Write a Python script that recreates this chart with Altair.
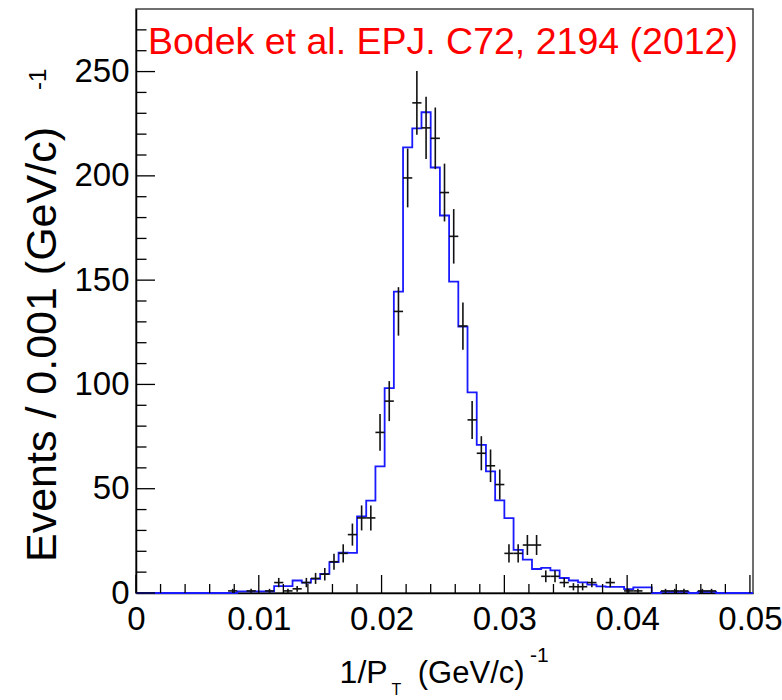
import altair as alt
import pandas as pd
import numpy as np

# ---------------- data ----------------
N_BINS = 67
BIN_W = 0.00075
X_MAX = N_BINS * BIN_W

# blue histogram (MC), one value per bin (bin index 0..66)
mc_counts = [
    0, 0, 0, 0, 0, 0, 0, 0, 0, 0,            # 0-9
    0, 0.8, 0.8, 0.8, 0.8, 3.3, 3.3, 6.0, 5.0, 6.8,   # 10-19
    9.2, 14.8, 19.4, 19.2, 36.7, 44.3, 60.7, 98.2, 144.5, 213.7,  # 20-29
    222.8, 230.5, 204.0, 181.0, 149.3, 127.7, 96.2, 71.0, 58.3, 44.4,  # 30-39
    35.9, 20.7, 16.0, 11.5, 12.0, 10.8, 7.2, 6.0, 5.1, 4.0,  # 40-49
    3.2, 2.9, 2.9, 1.9, 2.7, 2.7, 0, 0.5, 0.5, 0.5,  # 50-59
    0, 0.5, 0.5, 0, 0, 0, 0,                  # 60-66
]

# black data points: bin index and counts
data_bins = [10, 12, 14, 15, 16, 17, 18, 19, 20, 21, 22, 23, 24, 25, 26, 27, 28, 29,
             30, 31, 32, 33, 34, 35, 36, 37, 38, 39, 40, 41, 42, 43, 44, 45, 46, 47,
             48, 49, 51, 53, 54, 57, 58, 59, 61, 62]
data_counts = [1, 1, 1, 5, 1, 2, 5, 7, 9, 15, 19, 28, 36, 36, 77, 92, 135, 199,
               235, 223, 218, 192, 171, 128, 83, 67, 61, 52, 19, 19, 23, 23, 8, 8, 5, 3,
               3, 5, 5, 1, 1, 1, 1, 1, 1, 1]

x_tick_labels = [0, 0.01, 0.02, 0.03, 0.04, 0.05]
y_tick_labels = [0, 50, 100, 150, 200, 250]
x_minor = [0.002, 0.004, 0.006, 0.008, 0.012, 0.014, 0.016, 0.018, 0.022, 0.024,
           0.026, 0.028, 0.032, 0.034, 0.036, 0.038, 0.042, 0.044, 0.046, 0.048]
y_minor = [10, 20, 30, 40, 60, 70, 80, 90, 110, 120, 130, 140, 160, 170, 180, 190,
           210, 220, 230, 240, 260, 270]

# ---------------- tables ----------------
edges = [i * BIN_W for i in range(N_BINS + 1)]
step_df = pd.DataFrame({"x": edges, "y": mc_counts + [mc_counts[-1]]})

err = [float(np.sqrt(n)) for n in data_counts]
pts_df = pd.DataFrame({
    "lo": [edges[b] for b in data_bins],
    "hi": [edges[b + 1] for b in data_bins],
    "c": [(edges[b] + edges[b + 1]) / 2 for b in data_bins],
    "n": data_counts,
    "nlo": [max(n - e, 0) for n, e in zip(data_counts, err)],
    "nhi": [n + e for n, e in zip(data_counts, err)],
})

W, H = 617, 584
SANS = "Liberation Sans, Arial, Helvetica"

xs = alt.Scale(domain=[0, X_MAX], nice=False, zero=False)
ys = alt.Scale(domain=[0, 280], nice=False, zero=False)

x_axis = alt.Axis(values=x_tick_labels, format=".2~f", title=None, ticks=False, tickSize=0,
                  grid=False, domainColor="black", domainWidth=1.5,
                  labelFont=SANS, labelFontSize=33, labelColor="black",
                  labelPadding=10, labelOverlap=False, labelFlush=False, labelBound=False)
y_axis = alt.Axis(values=y_tick_labels, format="d", title=None, ticks=False, tickSize=0,
                  grid=False, domainColor="black", domainWidth=1.5,
                  labelFont=SANS, labelFontSize=33, labelColor="black",
                  labelPadding=7, labelOverlap=False, labelFlush=False, labelBound=False)

mc_line = alt.Chart(step_df).mark_line(
    interpolate="step-after", color="#1a1aff", strokeWidth=1.8
).encode(
    x=alt.X("x:Q", scale=xs, axis=x_axis),
    y=alt.Y("y:Q", scale=ys, axis=y_axis),
)

vbar = alt.Chart(pts_df).mark_rule(color="#111111", strokeWidth=1.6).encode(
    x=alt.X("c:Q", scale=xs, axis=x_axis),
    y=alt.Y("nlo:Q", scale=ys, axis=y_axis),
    y2="nhi:Q",
)
hbar = alt.Chart(pts_df).mark_rule(color="#111111", strokeWidth=1.6).encode(
    x=alt.X("lo:Q", scale=xs, axis=x_axis),
    x2="hi:Q",
    y=alt.Y("n:Q", scale=ys, axis=y_axis),
)

# inward axis ticks
def xticks(vals, length):
    return alt.Chart(pd.DataFrame({"v": vals})).mark_rule(color="black", strokeWidth=1.3).encode(
        x=alt.X("v:Q", scale=xs, axis=x_axis), y=alt.value(H), y2=alt.value(H - length))

def yticks(vals, length):
    return alt.Chart(pd.DataFrame({"v": vals})).mark_rule(color="black", strokeWidth=1.3).encode(
        y=alt.Y("v:Q", scale=ys, axis=y_axis), x=alt.value(0), x2=alt.value(length))

def label(text, x, y, size, font, color="black", angle=0):
    kw = dict(align="left", baseline="alphabetic", font=font, fontSize=size, color=color)
    if angle:
        kw["angle"] = angle
    return alt.Chart(pd.DataFrame({"t": [text]})).mark_text(**kw).encode(
        x=alt.value(x), y=alt.value(y), text="t:N")

layers = [
    mc_line, hbar, vbar,
    xticks(x_tick_labels, 18), xticks(x_minor, 9),
    yticks(y_tick_labels, 19), yticks(y_minor, 10.5),
    label("Bodek et al. EPJ. C72, 2194 (2012)", 12, 44.5, 37.5, SANS, "#ff0000"),
    label("1/P", 203.6, 674.3, 32, SANS),
    label("T", 255.5, 686, 16, SANS),
    label("(GeV/c)", 281.8, 674.3, 31, SANS),
    label("-1", 394, 652.7, 21, SANS),
    label("Events / 0.001  (GeV/c)", -80, 553, 43, SANS, angle=270),
    label("-1", -90, 81, 24, SANS, angle=270),
]

chart = alt.layer(*layers).properties(
    width=W, height=H,
    autosize=alt.AutoSizeParams(type="none"),
    padding={"left": 136, "top": 9, "right": 29, "bottom": 107},
    background="white",
).configure_view(stroke="#404040", strokeWidth=1.5)

chart.save("out.html", embed_options={"renderer": "svg", "actions": False})
